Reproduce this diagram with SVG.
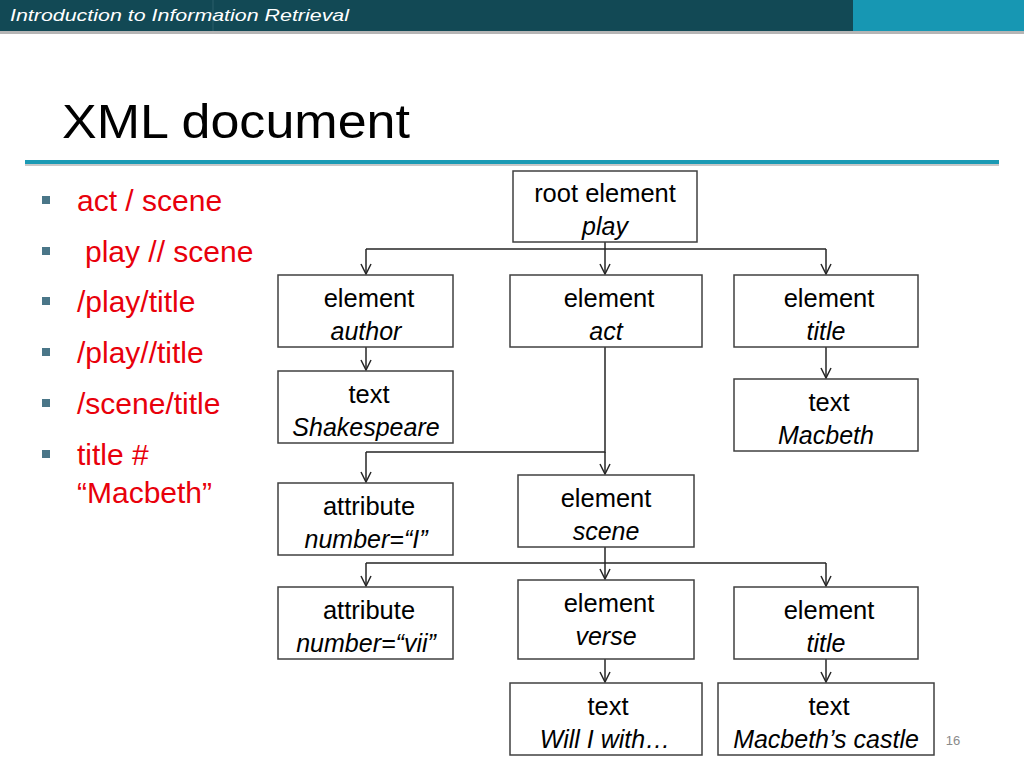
<svg xmlns="http://www.w3.org/2000/svg" width="1024" height="768" viewBox="0 0 1024 768">
<style>
.box{fill:#fff;stroke:#404040;stroke-width:1.5}
.t{font-family:"Liberation Sans",Arial,sans-serif;font-size:25.5px;fill:#000;text-anchor:middle}
.i{font-style:italic;font-size:25px}
.b{font-family:"Liberation Sans",Arial,sans-serif;font-size:30px;fill:#e8000b}
.bul{fill:#4a7688}
.c{fill:none;stroke:#262626;stroke-width:1.5}
</style>
<defs>
<marker id="ah" viewBox="0 0 12 12" refX="11" refY="6" markerWidth="12" markerHeight="12" markerUnits="userSpaceOnUse" orient="auto">
<path d="M1,1 L11,6 L1,11" fill="none" stroke="#262626" stroke-width="1.5"/>
</marker>
</defs>
<rect width="1024" height="768" fill="#fff"/>
<g id="header">
<rect x="0" y="0" width="853" height="31" fill="#124955"/>
<rect x="853" y="0" width="171" height="31" fill="#1797b3"/>
<rect x="0" y="31" width="1024" height="3" fill="#b5b5b5"/>
<line x1="213" y1="0" x2="213" y2="31" stroke="#2a5f6b" stroke-width="1"/>
<text x="10" y="21" font-family="Liberation Sans,Arial,sans-serif" font-size="17" font-style="italic" fill="#fff" textLength="339" lengthAdjust="spacingAndGlyphs">Introduction to Information Retrieval</text>
</g>
<g id="title">
<text x="62" y="138" font-family="Liberation Sans,Arial,sans-serif" font-size="49" fill="#000" textLength="348" lengthAdjust="spacingAndGlyphs">XML document</text>
<rect x="25" y="160" width="974" height="4" fill="#1b9ab4"/>
<rect x="25" y="164" width="974" height="2" fill="#c8c8c8"/>
</g>
<g id="bullets">
<rect class="bul" x="42" y="196" width="8" height="8"/>
<text class="b" x="77" y="211">act / scene</text>
<rect class="bul" x="42" y="247" width="8" height="8"/>
<text class="b" x="85" y="262">play // scene</text>
<rect class="bul" x="42" y="297" width="8" height="8"/>
<text class="b" x="77" y="312">/play/title</text>
<rect class="bul" x="42" y="348" width="8" height="8"/>
<text class="b" x="77" y="363">/play//title</text>
<rect class="bul" x="42" y="399" width="8" height="8"/>
<text class="b" x="77" y="414">/scene/title</text>
<rect class="bul" x="42" y="450" width="8" height="8"/>
<text class="b" x="77" y="465">title #</text>
<text class="b" x="77" y="503">“Macbeth”</text>
</g>
<g id="connectors">
<path class="c" d="M605,242 V249 M366,249 H826"/>
<path class="c" d="M366,249 V274" marker-end="url(#ah)"/>
<path class="c" d="M605,249 V274" marker-end="url(#ah)"/>
<path class="c" d="M826,249 V274" marker-end="url(#ah)"/>
<path class="c" d="M366,347 V370" marker-end="url(#ah)"/>
<path class="c" d="M826,347 V378" marker-end="url(#ah)"/>
<path class="c" d="M605,347 V452 H366"/>
<path class="c" d="M366,452 V482" marker-end="url(#ah)"/>
<path class="c" d="M605,452 V474" marker-end="url(#ah)"/>
<path class="c" d="M605,547 V563 M366,563 H826"/>
<path class="c" d="M366,563 V586" marker-end="url(#ah)"/>
<path class="c" d="M605,563 V579" marker-end="url(#ah)"/>
<path class="c" d="M826,563 V586" marker-end="url(#ah)"/>
<path class="c" d="M605,659 V682" marker-end="url(#ah)"/>
<path class="c" d="M826,659 V682" marker-end="url(#ah)"/>
</g>
<g id="root">
<rect class="box" x="513" y="171" width="184" height="71"/>
<text class="t" x="605" y="202">root element</text>
<text class="t i" x="605" y="235">play</text>
</g>
<g id="author">
<rect class="box" x="278" y="275" width="175" height="72"/>
<text class="t" x="369" y="307">element</text>
<text class="t i" x="366" y="340">author</text>
</g>
<g id="act">
<rect class="box" x="510" y="275" width="192" height="72"/>
<text class="t" x="609" y="307">element</text>
<text class="t i" x="606" y="340">act</text>
</g>
<g id="title1">
<rect class="box" x="734" y="275" width="184" height="72"/>
<text class="t" x="829" y="307">element</text>
<text class="t i" x="826" y="340">title</text>
</g>
<g id="shakespeare">
<rect class="box" x="278" y="371" width="175" height="72"/>
<text class="t" x="369" y="403">text</text>
<text class="t i" x="366" y="436">Shakespeare</text>
</g>
<g id="macbeth">
<rect class="box" x="734" y="379" width="184" height="72"/>
<text class="t" x="829" y="411">text</text>
<text class="t i" x="826" y="444">Macbeth</text>
</g>
<g id="attr1">
<rect class="box" x="278" y="483" width="175" height="72"/>
<text class="t" x="369" y="515">attribute</text>
<text class="t i" x="366" y="548">number=“I”</text>
</g>
<g id="scene">
<rect class="box" x="518" y="475" width="176" height="72"/>
<text class="t" x="606" y="507">element</text>
<text class="t i" x="606" y="540">scene</text>
</g>
<g id="attr2">
<rect class="box" x="278" y="587" width="175" height="72"/>
<text class="t" x="369" y="619">attribute</text>
<text class="t i" x="366" y="652">number=“vii”</text>
</g>
<g id="verse">
<rect class="box" x="518" y="580" width="176" height="79"/>
<text class="t" x="609" y="612">element</text>
<text class="t i" x="606" y="645">verse</text>
</g>
<g id="title2">
<rect class="box" x="734" y="587" width="184" height="72"/>
<text class="t" x="829" y="619">element</text>
<text class="t i" x="826" y="652">title</text>
</g>
<g id="will">
<rect class="box" x="510" y="683" width="192" height="72"/>
<text class="t" x="608" y="715">text</text>
<text class="t i" x="605" y="748">Will I with…</text>
</g>
<g id="castle">
<rect class="box" x="718" y="683" width="216" height="72"/>
<text class="t" x="829" y="715">text</text>
<text class="t i" x="826" y="748">Macbeth’s castle</text>
</g>
<text x="953" y="745" font-family="Liberation Sans,Arial,sans-serif" font-size="13" fill="#8a8a8a" text-anchor="middle">16</text>
</svg>
